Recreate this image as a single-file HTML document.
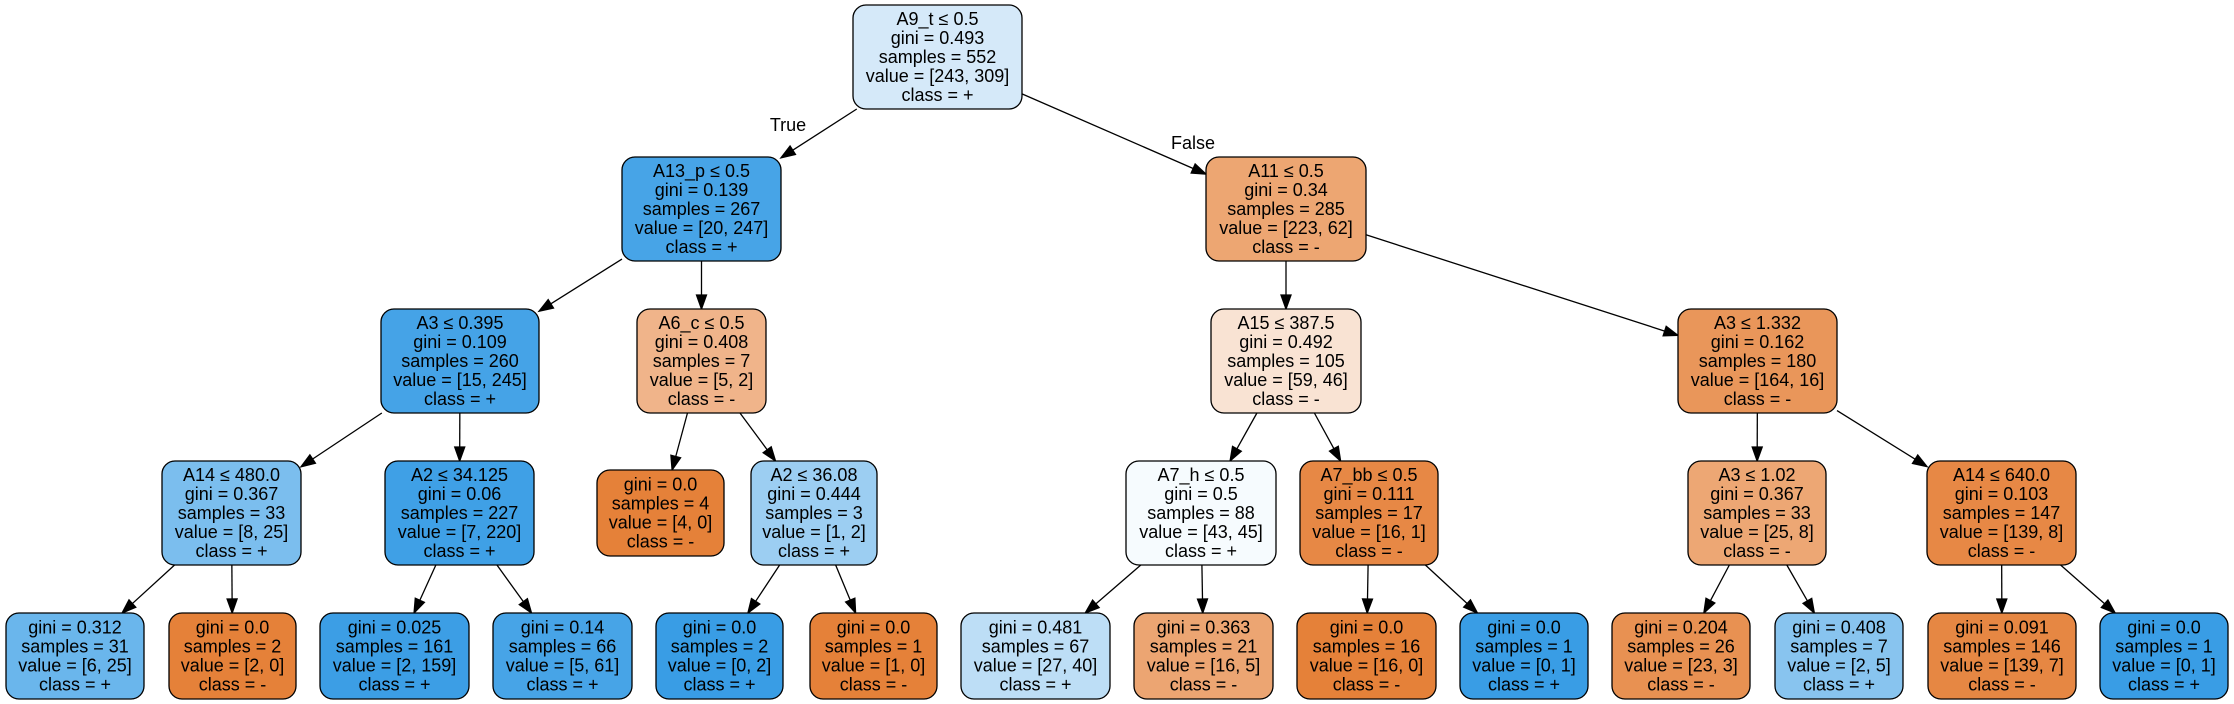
<!DOCTYPE html>
<html><head><meta charset="utf-8"><style>
html,body{margin:0;padding:0;background:#fff;width:2234px;height:704px;overflow:hidden}
svg text{font-family:"Liberation Sans",Helvetica,Arial,sans-serif;font-size:18px;fill:#000}
</style></head><body>
<svg id="s" width="2234" height="704" xmlns="http://www.w3.org/2000/svg"></svg>
<script>
const N={
r:[853,5,1022,109,'#d5e9f9',['A9_t ≤ 0.5','gini = 0.493','samples = 552','value = [243, 309]','class = +']],
a:[622,157,781,261,'#47a4e7',['A13_p ≤ 0.5','gini = 0.139','samples = 267','value = [20, 247]','class = +']],
b:[1206,157,1366,261,'#eda672',['A11 ≤ 0.5','gini = 0.34','samples = 285','value = [223, 62]','class = -']],
c:[381,309,539,413,'#45a3e7',['A3 ≤ 0.395','gini = 0.109','samples = 260','value = [15, 245]','class = +']],
d:[637,309,766,413,'#f0b48a',['A6_c ≤ 0.5','gini = 0.408','samples = 7','value = [5, 2]','class = -']],
e:[1211,309,1361,413,'#f9e3d3',['A15 ≤ 387.5','gini = 0.492','samples = 105','value = [59, 46]','class = -']],
f:[1678,309,1837,413,'#e9965a',['A3 ≤ 1.332','gini = 0.162','samples = 180','value = [164, 16]','class = -']],
g:[162,461,301,565,'#7bbeee',['A14 ≤ 480.0','gini = 0.367','samples = 33','value = [8, 25]','class = +']],
h:[385,461,534,565,'#3fa0e6',['A2 ≤ 34.125','gini = 0.06','samples = 227','value = [7, 220]','class = +']],
i:[597,470,724,556,'#e58139',['gini = 0.0','samples = 4','value = [4, 0]','class = -']],
j:[751,461,877,565,'#9ccef2',['A2 ≤ 36.08','gini = 0.444','samples = 3','value = [1, 2]','class = +']],
k:[1126,461,1276,565,'#f6fbfe',['A7_h ≤ 0.5','gini = 0.5','samples = 88','value = [43, 45]','class = +']],
l:[1300,461,1438,565,'#e78845',['A7_bb ≤ 0.5','gini = 0.111','samples = 17','value = [16, 1]','class = -']],
m:[1688,461,1826,565,'#eda774',['A3 ≤ 1.02','gini = 0.367','samples = 33','value = [25, 8]','class = -']],
n:[1927,461,2076,565,'#e78845',['A14 ≤ 640.0','gini = 0.103','samples = 147','value = [139, 8]','class = -']],
o1:[6,613,144,699,'#6ab6ec',['gini = 0.312','samples = 31','value = [6, 25]','class = +']],
o2:[169,613,296,699,'#e58139',['gini = 0.0','samples = 2','value = [2, 0]','class = -']],
o3:[320,613,469,699,'#3c9ee5',['gini = 0.025','samples = 161','value = [2, 159]','class = +']],
o4:[493,613,632,699,'#47a4e7',['gini = 0.14','samples = 66','value = [5, 61]','class = +']],
o5:[656,613,783,699,'#399de5',['gini = 0.0','samples = 2','value = [0, 2]','class = +']],
o6:[810,613,937,699,'#e58139',['gini = 0.0','samples = 1','value = [1, 0]','class = -']],
o7:[961,613,1110,699,'#bddef6',['gini = 0.481','samples = 67','value = [27, 40]','class = +']],
o8:[1134,613,1273,699,'#eca572',['gini = 0.363','samples = 21','value = [16, 5]','class = -']],
o9:[1297,613,1436,699,'#e58139',['gini = 0.0','samples = 16','value = [16, 0]','class = -']],
o10:[1460,613,1588,699,'#399de5',['gini = 0.0','samples = 1','value = [0, 1]','class = +']],
o11:[1612,613,1750,699,'#e89152',['gini = 0.204','samples = 26','value = [23, 3]','class = -']],
o12:[1775,613,1903,699,'#88c4ef',['gini = 0.408','samples = 7','value = [2, 5]','class = +']],
o13:[1928,613,2076,699,'#e68743',['gini = 0.091','samples = 146','value = [139, 7]','class = -']],
o14:[2100,613,2228,699,'#399de5',['gini = 0.0','samples = 1','value = [0, 1]','class = +']]
};
const E=[['r','a'],['r','b'],['a','c'],['a','d'],['b','e'],['b','f'],['c','g'],['c','h'],['d','i'],['d','j'],['e','k'],['e','l'],['f','m'],['f','n'],['g','o1'],['g','o2'],['h','o3'],['h','o4'],['j','o5'],['j','o6'],['k','o7'],['k','o8'],['l','o9'],['l','o10'],['m','o11'],['m','o12'],['n','o13'],['n','o14']];
let out='';
function clip(b,px,py,dx,dy){
 const hw=(b[2]-b[0])/2,hh=(b[3]-b[1])/2;
 return Math.min(dx?hw/Math.abs(dx):1e9,dy?hh/Math.abs(dy):1e9);}
for(const [p,c] of E){
 const P=N[p],C=N[c];
 const px=(P[0]+P[2])/2,py=(P[1]+P[3])/2,cx=(C[0]+C[2])/2,cy=(C[1]+C[3])/2;
 const dx=cx-px,dy=cy-py,L=Math.hypot(dx,dy),ux=dx/L,uy=dy/L;
 const t1=clip(P,px,py,ux,uy),t2=clip(C,cx,cy,-ux,-uy);
 const sx=px+ux*t1,sy=py+uy*t1,ex=cx-ux*t2,ey=cy-uy*t2;
 const bx=ex-ux*14,by=ey-uy*14,nx=-uy*5,ny=ux*5;
 out+=`<line x1="${sx}" y1="${sy}" x2="${bx}" y2="${by}" stroke="#000" stroke-width="1.3"/>`;
 out+=`<polygon points="${ex},${ey} ${bx+nx},${by+ny} ${bx-nx},${by-ny}" fill="#000" stroke="#000" stroke-width="1.3"/>`;
}
for(const k in N){const b=N[k];
 out+=`<rect x="${b[0]}" y="${b[1]}" width="${b[2]-b[0]}" height="${b[3]-b[1]}" rx="13" ry="13" fill="${b[4]}" stroke="#000" stroke-width="1.3"/>`;
 const cx=(b[0]+b[2])/2,n=b[5].length,cy=(b[1]+b[3])/2;
 b[5].forEach((t,i)=>{const y=cy+(i-(n-1)/2)*19+6;
  out+=`<text x="${cx}" y="${y}" text-anchor="middle">${t}</text>`;});
}
out+=`<text x="788" y="131" text-anchor="middle">True</text><text x="1193" y="149" text-anchor="middle">False</text>`;
document.getElementById('s').innerHTML=out;
</script>
</body></html>
